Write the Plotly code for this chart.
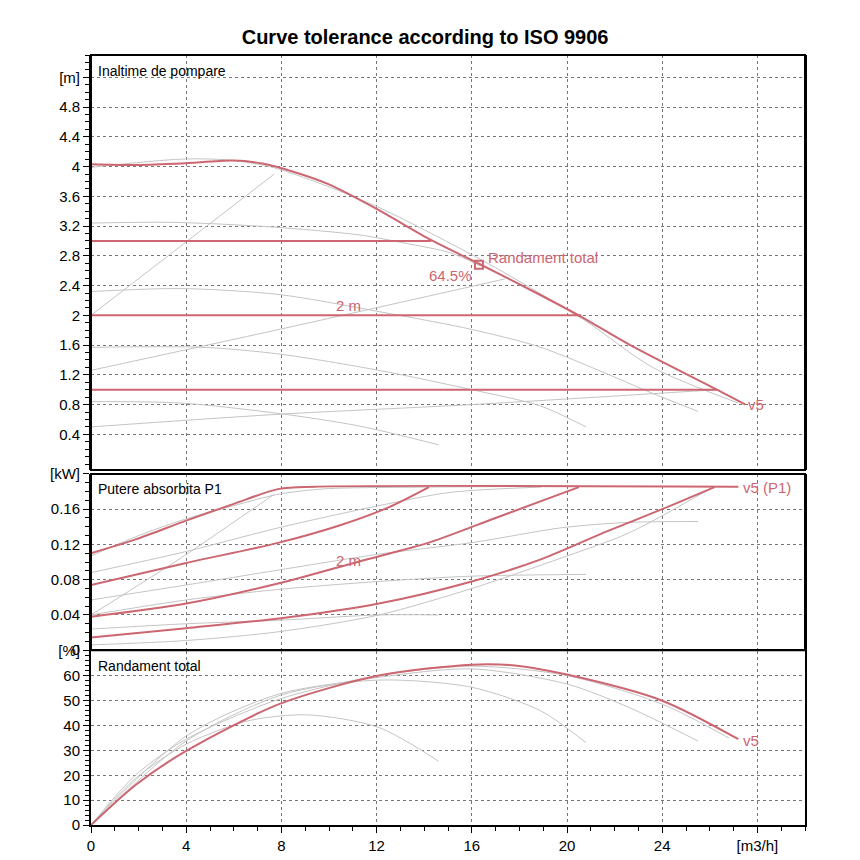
import plotly.graph_objects as go

RED = "#cc6670"
GREY = "#c4c4c4"

# ---- Inaltime de pompare (head, m) ----
head_red_q = [0, 1.9, 3.8, 6.0, 7.2, 8.5, 10, 12, 14.3, 16.2, 18.9, 20.6, 22.6, 26.3, 27.5]
head_red_h = [4.03, 4.02, 4.04, 4.08, 4.04, 3.93, 3.76, 3.43, 3.01, 2.71, 2.27, 1.98, 1.61, 1.0, 0.8]

head_grey = [
    ([0, 3.8, 5.7, 7.5, 9.4, 12.1, 14.3, 17.0, 20.8, 23.6, 27.2],
     [3.99, 4.1, 4.09, 4.0, 3.8, 3.45, 3.1, 2.64, 1.92, 1.3, 0.82]),
    ([0, 3.4, 7.5, 11.3, 13.2, 15.1, 16.4],
     [3.24, 3.25, 3.19, 3.08, 2.97, 2.84, 2.66]),
    ([0, 3.8, 7.9, 12.1, 16.0, 18.9, 21.7, 23.6, 25.5],
     [2.32, 2.36, 2.28, 2.05, 1.81, 1.57, 1.21, 0.95, 0.71]),
    ([0, 4.7, 7.9, 12.1, 16.0, 18.9, 20.8],
     [1.57, 1.57, 1.48, 1.26, 1.0, 0.78, 0.5]),
    ([0, 3.8, 7.9, 11.3, 14.6],
     [0.84, 0.82, 0.68, 0.51, 0.26]),
    ([0, 7.7], [2.0, 3.9]),
    ([0, 7.9, 17.4], [1.26, 1.81, 2.49]),
    ([0, 7.9, 16.0, 26.3], [0.5, 0.67, 0.8, 1.0]),
]
tol_levels = [3.0, 2.0, 1.0]
tol_ends = [14.3, 20.6, 26.3]
bep_q, bep_h = [16.3], [2.68]

# ---- Putere absorbita P1 (kW) ----
pow_red = [
    ([0, 1.9, 4.0, 6.0, 7.9, 9.4, 27.2],
     [0.110, 0.126, 0.147, 0.166, 0.183, 0.1855, 0.1855]),
    ([0, 4.0, 7.9, 10.5, 12.5, 14.2],
     [0.074, 0.099, 0.122, 0.142, 0.162, 0.185]),
    ([0, 4.0, 7.9, 11.3, 14.2, 17.0, 20.5],
     [0.038, 0.053, 0.076, 0.101, 0.122, 0.150, 0.185]),
    ([0, 4.0, 7.9, 12.1, 16.0, 18.9, 21.7, 24.0, 26.2],
     [0.0145, 0.025, 0.036, 0.053, 0.078, 0.103, 0.135, 0.160, 0.185]),
]
pow_grey = [
    ([0, 2.0, 4.0, 6.0, 7.9, 9.8, 14.2, 20.0],
     [0.107, 0.130, 0.149, 0.164, 0.177, 0.183, 0.185, 0.186]),
    ([0, 4.0, 7.9, 12.1, 15.1, 18.9],
     [0.088, 0.112, 0.139, 0.164, 0.179, 0.185]),
    ([0, 4.0, 7.9, 12.1, 16.0, 19.8, 22.6, 25.5],
     [0.057, 0.074, 0.091, 0.109, 0.122, 0.139, 0.145, 0.146]),
    ([0, 4.0, 7.9, 12.1, 16.0, 20.8],
     [0.040, 0.057, 0.069, 0.078, 0.084, 0.086]),
    ([0, 4.0, 7.9, 12.1, 14.6],
     [0.024, 0.030, 0.034, 0.040, 0.040]),
    ([0, 4.0, 7.9, 12.1, 16.0, 19.8, 22.6, 26.0],
     [0.006, 0.011, 0.021, 0.040, 0.070, 0.105, 0.133, 0.183]),
    ([0, 3.8, 7.7], [0.040, 0.105, 0.177]),
]

# ---- Randament total (%) ----
eff_red_q = [0, 1.9, 4.0, 7.9, 12.1, 16.0, 17.9, 20.0, 24.0, 27.2]
eff_red_e = [0, 16.3, 29.8, 48.6, 60.1, 64.5, 64.1, 60.5, 50.0, 34.5]
eff_grey = [
    ([0, 1.9, 4.0, 7.9, 12.1, 16.0, 20.0, 24.0, 26.8],
     [0, 20.3, 34.5, 50.6, 60.1, 63.9, 60.1, 48.6, 35.0]),
    ([0, 4.0, 7.9, 12.1, 16.0, 20.0, 22.6, 25.5],
     [0, 33.8, 52.0, 59.4, 62.8, 56.7, 47.3, 33.8]),
    ([0, 4.0, 7.9, 12.1, 16.0, 18.9, 20.8],
     [0, 35.8, 52.7, 58.3, 55.4, 45.9, 33.1]),
    ([0, 1.9, 4.0, 6.6, 9.1, 12.1, 14.6],
     [0, 19.0, 32.5, 41.9, 44.3, 39.2, 25.7]),
]

fig = go.Figure()


def line(x, y, color, width, ax):
    fig.add_trace(go.Scatter(x=x, y=y, mode="lines", line=dict(color=color, width=width, shape="spline", smoothing=0.8),
                             xaxis="x", yaxis=ax, hoverinfo="skip", showlegend=False))


# head panel
for q, h in head_grey:
    line(q, h, GREY, 1, "y")
for lvl, end in zip(tol_levels, tol_ends):
    fig.add_trace(go.Scatter(x=[0, end], y=[lvl, lvl], mode="lines", line=dict(color=RED, width=2),
                             yaxis="y", showlegend=False, hoverinfo="skip"))
fig.add_trace(go.Scatter(x=[0, 0], y=[min(tol_levels), max(tol_levels)], mode="lines",
                         line=dict(color=RED, width=2), yaxis="y", showlegend=False, hoverinfo="skip"))
line(head_red_q, head_red_h, RED, 2, "y")
fig.add_trace(go.Scatter(x=bep_q, y=bep_h, mode="markers", yaxis="y", showlegend=False,
                         marker=dict(symbol="square-open", size=8, color=RED, line=dict(width=2))))

# power panel
for q, p in pow_grey:
    line(q, p, GREY, 1, "y2")
for q, p in pow_red:
    line(q, p, RED, 2, "y2")

# efficiency panel
for q, e in eff_grey:
    line(q, e, GREY, 1, "y3")
line(eff_red_q, eff_red_e, RED, 2, "y3")

red_font = dict(family="Liberation Sans Narrow, Liberation Sans, Arial", size=15, color=RED)
lab_font = dict(family="Liberation Sans, Arial", size=14, color="black")
ann = [
    dict(x=bep_q[0] + 0.3, y=bep_h[0] + 0.1, text="Randament total", xanchor="left", yref="y", font=red_font),
    dict(x=bep_q[0] - 0.2, y=bep_h[0] - 0.14, text="64.5%", xanchor="right", yref="y", font=red_font),
    dict(x=10.8, y=2.13, text="2 m", xanchor="center", yref="y", font=red_font),
    dict(x=27.5, y=0.8, text="v5", xanchor="left", yref="y", font=red_font),
    dict(x=10.8, y=0.102, text="2 m", xanchor="center", yref="y2", font=red_font),
    dict(x=27.3, y=0.185, text="v5 (P1)", xanchor="left", yref="y2", font=red_font),
    dict(x=27.3, y=34, text="v5", xanchor="left", yref="y3", font=red_font),
    dict(x=0.007, y=0.985, xref="x domain", yref="y domain", text="Inaltime de pompare",
         xanchor="left", yanchor="top", font=lab_font),
    dict(x=0.007, y=0.97, xref="x domain", yref="y2 domain", text="Putere absorbita P1",
         xanchor="left", yanchor="top", font=lab_font),
    dict(x=0.007, y=0.97, xref="x domain", yref="y3 domain", text="Randament total",
         xanchor="left", yanchor="top", font=lab_font),
]
for a in ann:
    a.setdefault("xref", "x")
    a["showarrow"] = False
    a["yanchor"] = a.get("yanchor", "middle")

axis_style = dict(showgrid=True, gridcolor="#777777", griddash="dot", gridwidth=1, automargin=False,
                  showline=True, linecolor="black", linewidth=2, mirror=True, zeroline=False,
                  ticks="outside", ticklen=6, tickcolor="black", tickfont=dict(size=15))

head_ticks = [0.4, 0.8, 1.2, 1.6, 2.0, 2.4, 2.8, 3.2, 3.6, 4.0, 4.4, 4.8, 5.2]
head_text = ["0.4", "0.8", "1.2", "1.6", "2", "2.4", "2.8", "3.2", "3.6", "4", "4.4", "4.8", "[m]"]
pow_ticks = [0, 0.04, 0.08, 0.12, 0.16, 0.2]
pow_text = ["0", "0.04", "0.08", "0.12", "0.16", "[kW]"]
eff_ticks = [0, 10, 20, 30, 40, 50, 60, 70]
eff_text = ["0", "10", "20", "30", "40", "50", "60", "[%]"]
q_ticks = [0, 4, 8, 12, 16, 20, 24, 28]
q_text = ["0", "4", "8", "12", "16", "20", "24", "[m3/h]"]


def minor(step):
    return dict(dtick=step, ticks="outside", ticklen=4, tickcolor="black", showgrid=False)


fig.update_layout(
    width=860, height=860,
    paper_bgcolor="white", plot_bgcolor="white",
    margin=dict(l=83, r=63, t=47, b=43, autoexpand=False),
    font=dict(family="Liberation Sans Narrow, Liberation Sans, Arial", size=15, color="black"),
    title=dict(text="<b>Curve tolerance according to ISO 9906</b>", x=0.485, xanchor="center",
               y=0.975, yref="container", font=dict(family="Liberation Sans, Arial", size=20)),
    xaxis=dict(range=[0, 30], domain=[0, 1], anchor="y3", tickvals=q_ticks, ticktext=q_text,
               minor=minor(1), **axis_style),
    yaxis=dict(range=[-0.08, 5.5], domain=[0.461, 1], anchor="x", tickvals=head_ticks, ticktext=head_text,
               minor=minor(0.1), **axis_style),
    yaxis2=dict(range=[0, 0.2], domain=[0.227, 0.456], anchor="x", tickvals=pow_ticks, ticktext=pow_text,
                minor=minor(0.01), **axis_style),
    yaxis3=dict(range=[0, 70], domain=[0, 0.226], anchor="x", tickvals=eff_ticks, ticktext=eff_text,
                minor=minor(2), **axis_style),
    annotations=ann,
)

# frames round the two upper panels
for yref in ["y domain", "y2 domain"]:
    fig.add_shape(type="rect", xref="x domain", yref=yref, x0=0, x1=1, y0=0, y1=1,
                  line=dict(color="black", width=2))

fig.write_html("out.html")
